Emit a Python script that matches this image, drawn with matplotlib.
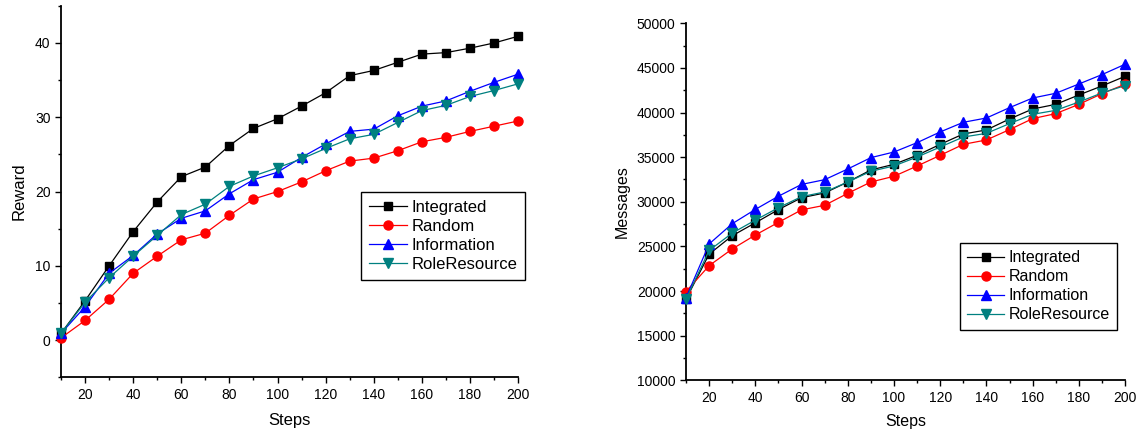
import matplotlib.pyplot as plt
import numpy as np
from matplotlib.ticker import MultipleLocator

plt.rcParams['font.family'] = ['Liberation Sans', 'DejaVu Sans']

steps = np.arange(10, 201, 10)

# reward per strategy
rew_integrated = [0.9, 5.3, 10.0, 14.6, 18.6, 22.0, 23.3, 26.2, 28.5, 29.8,
                  31.5, 33.3, 35.6, 36.3, 37.4, 38.5, 38.7, 39.3, 40.0, 40.9]
rew_random = [0.3, 2.65, 5.5, 9.0, 11.3, 13.5, 14.4, 16.8, 19.0, 20.0,
              21.3, 22.8, 24.1, 24.5, 25.5, 26.7, 27.3, 28.1, 28.8, 29.5]
rew_information = [0.9, 4.5, 9.0, 11.4, 14.3, 16.4, 17.4, 19.7, 21.6, 22.6,
                   24.6, 26.4, 28.1, 28.4, 30.2, 31.5, 32.2, 33.5, 34.7, 35.8]
rew_roleresource = [0.9, 5.1, 8.4, 11.3, 14.1, 16.9, 18.3, 20.7, 22.1, 23.2,
                    24.4, 25.8, 27.1, 27.7, 29.3, 30.9, 31.6, 32.8, 33.6, 34.5]

# messages per strategy
msg_integrated = [19100, 24140, 26200, 27650, 29130, 30460, 30990, 32220, 33570, 34200,
                  35210, 36440, 37600, 38050, 39280, 40400, 40920, 41970, 42980, 44060]
msg_random = [19950, 22850, 24720, 26280, 27700, 29100, 29610, 30950, 32220, 32860,
              34010, 35210, 36440, 36930, 38090, 39320, 39880, 40920, 42120, 43170]
msg_information = [19250, 25280, 27550, 29150, 30630, 31950, 32480, 33680, 34950, 35580,
                   36630, 37830, 38910, 39390, 40550, 41630, 42160, 43200, 44250, 45410]
msg_roleresource = [19100, 24550, 26500, 27950, 29340, 30580, 31100, 32220, 33420, 34020,
                    35020, 36140, 37260, 37670, 38760, 39800, 40250, 41180, 42200, 43020]

labels = ['Integrated', 'Random', 'Information', 'RoleResource']
colors = ['black', '#ff0000', '#0000ff', '#008080']
markers = ['s', 'o', '^', 'v']
msizes = [6, 6.5, 6.5, 6.5]

fig = plt.figure(figsize=(11.4, 4.34), dpi=100)
ax1 = fig.add_axes([0.0535, 0.1306, 0.401, 0.856])
ax2 = fig.add_axes([0.6018, 0.1237, 0.3851, 0.8226])


def style(ax):
    for s in ['top', 'right']:
        ax.spines[s].set_visible(False)
    for s in ['left', 'bottom']:
        ax.spines[s].set_linewidth(1.3)
    ax.tick_params(which='major', direction='out', length=4.5, width=1.0,
                   labelsize=10, pad=3)
    ax.tick_params(which='minor', direction='out', length=2.4, width=1.0)
    ax.set_xlim(10, 200)
    ax.xaxis.set_major_locator(MultipleLocator(20))
    ax.xaxis.set_minor_locator(MultipleLocator(10))


series1 = [rew_integrated, rew_random, rew_information, rew_roleresource]
for ys, lab, c, m, ms in zip(series1, labels, colors, markers, msizes):
    ax1.plot(steps, ys, color=c, marker=m, markersize=ms, markerfacecolor=c,
             markeredgecolor=c, linewidth=0.9, label=lab, clip_on=False, zorder=3)
style(ax1)
ax1.set_ylim(-5, 45)
ax1.yaxis.set_major_locator(MultipleLocator(10))
ax1.yaxis.set_minor_locator(MultipleLocator(5))
ax1.set_xlabel('Steps', fontsize=12, labelpad=8)
ax1.set_ylabel('Reward', fontsize=12, labelpad=6)
leg1 = ax1.legend(loc='upper left', bbox_to_anchor=(0.3167, 0.5569),
                  bbox_transform=fig.transFigure, borderaxespad=0,
                  fontsize=12, fancybox=False, edgecolor='black',
                  framealpha=1, handlelength=2.3, handletextpad=0.3,
                  labelspacing=0.25, borderpad=0.45)
leg1.get_frame().set_linewidth(1.0)

series2 = [msg_integrated, msg_random, msg_information, msg_roleresource]
for ys, lab, c, m, ms in zip(series2, labels, colors, markers, msizes):
    ax2.plot(steps, ys, color=c, marker=m, markersize=ms, markerfacecolor=c,
             markeredgecolor=c, linewidth=0.9, label=lab, clip_on=False, zorder=3)
style(ax2)
ax2.set_ylim(10000, 50000)
ax2.yaxis.set_major_locator(MultipleLocator(5000))
ax2.yaxis.set_minor_locator(MultipleLocator(2500))
ax2.set_xlabel('Steps', fontsize=11.5, labelpad=7)
ax2.set_ylabel('Messages', fontsize=11.5, labelpad=5)
leg2 = ax2.legend(loc='upper left', bbox_to_anchor=(0.8421, 0.4394),
                  bbox_transform=fig.transFigure, borderaxespad=0,
                  fontsize=11.5, fancybox=False, edgecolor='black',
                  framealpha=1, handlelength=2.3, handletextpad=0.3,
                  labelspacing=0.25, borderpad=0.45)
leg2.get_frame().set_linewidth(1.0)

fig.savefig('out.png', dpi=100)
